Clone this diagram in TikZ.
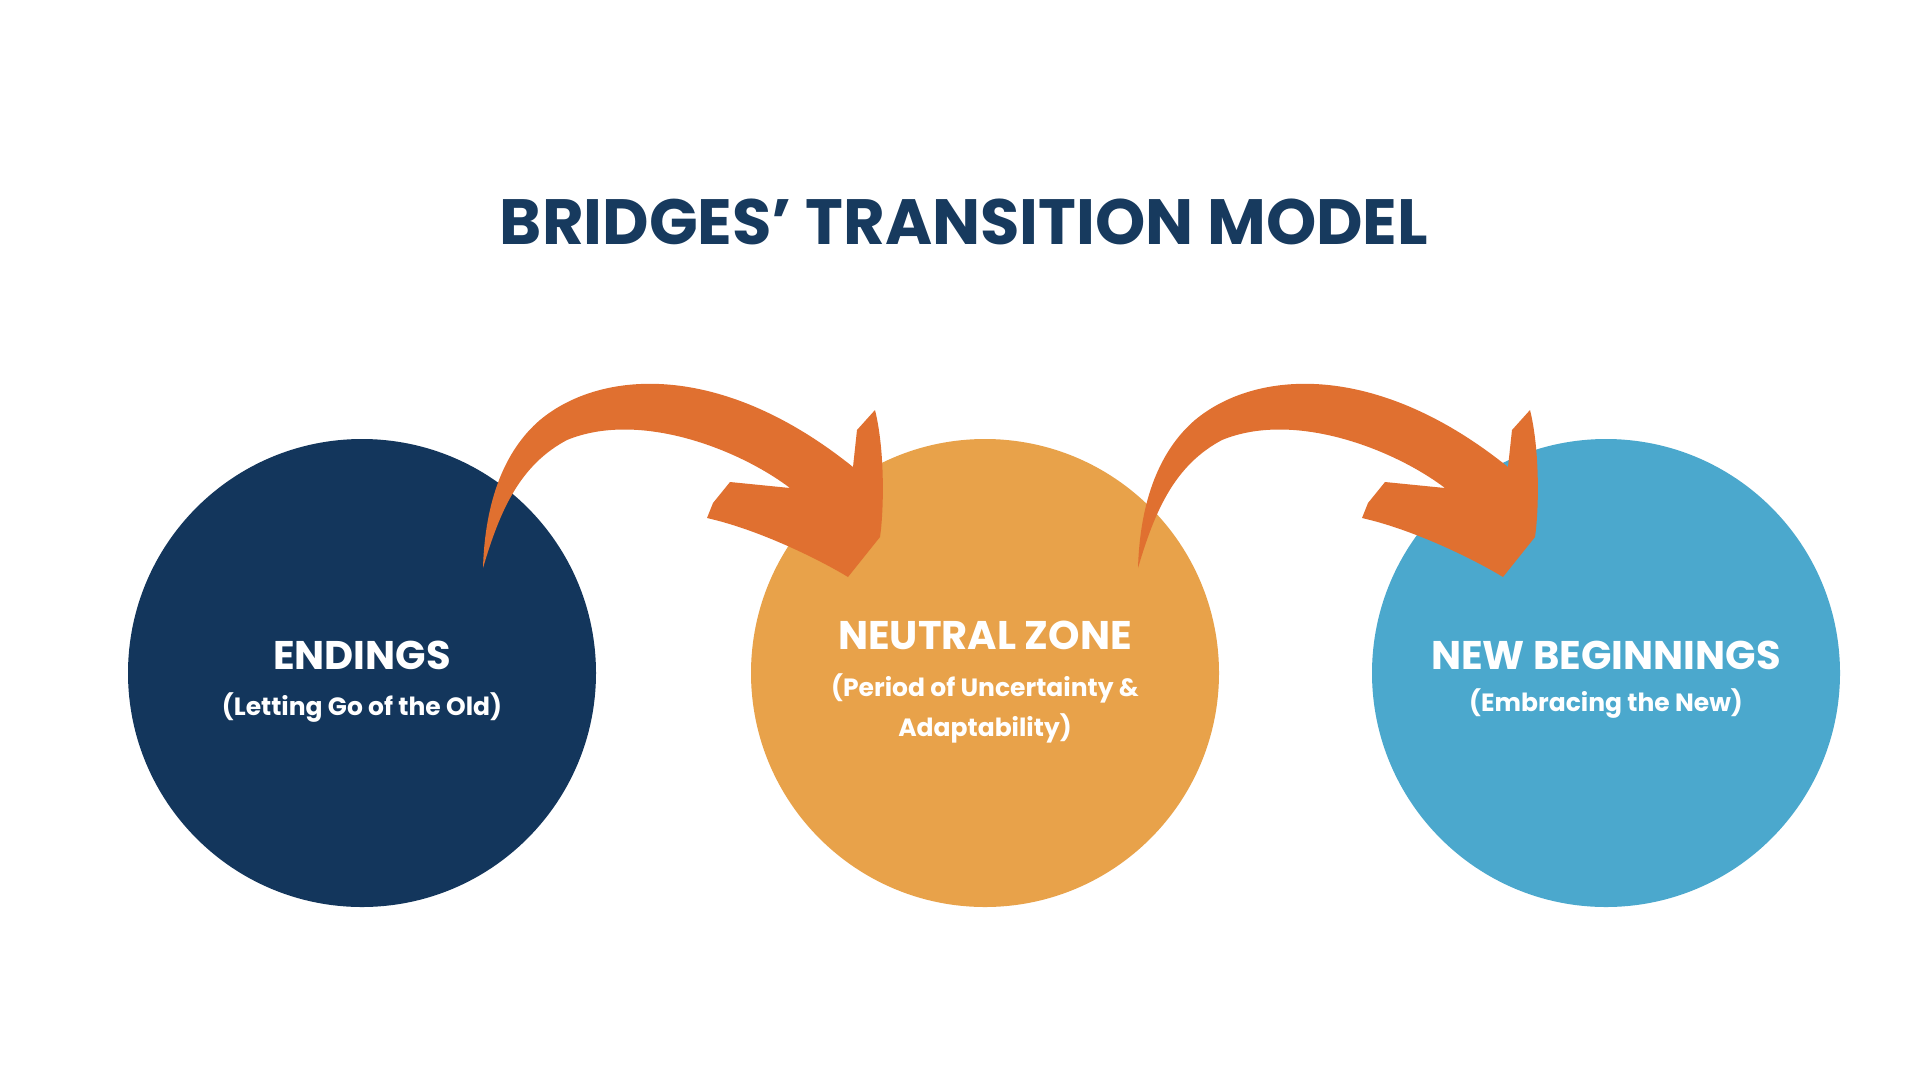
\documentclass[tikz,border=0pt]{standalone}
\usepackage{fontspec}
\setmainfont{Poppins}
\definecolor{navy}{HTML}{13365C}
\definecolor{sand}{HTML}{E8A24A}
\definecolor{sky}{HTML}{4BA8CD}
\definecolor{arr}{HTML}{E07030}
\definecolor{ttl}{HTML}{173A5E}
\begin{document}
\begin{tikzpicture}[x=1pt,y=-1pt,
  disc/.style={circle,minimum size=468pt,inner sep=0pt},
  head/.style={text=white,font=\fontsize{40}{44}\selectfont\bfseries},
  sub/.style={text=white,font=\fontsize{25}{40}\selectfont\bfseries,align=center},
  bend/.pic={\fill[arr] (483,568) .. controls (485,500) and (505,450) .. (540,420)
     .. controls (600,370) and (720,360) .. (853,467)
     -- (857,430) -- (875,410) .. controls (885,450) and (884,510) .. (880,537)
     -- (848,577) .. controls (820,560) and (760,530) .. (707,518)
     -- (713,503) -- (730,482) -- (790,488)
     .. controls (740,450) and (640,410) .. (567,440)
     .. controls (520,465) and (500,510) .. (483,568) -- cycle;}]
\useasboundingbox (0,0) rectangle (1920,1080);
\fill[white] (0,0) rectangle (1920,1080);
\node[text=ttl,font=\fontsize{64}{70}\selectfont\bfseries] (title) at (964,222) {BRIDGES’ TRANSITION MODEL};
\node[disc,fill=navy] (c1) at (362,673) {};
\node[disc,fill=sand] (c2) at (985,673) {};
\node[disc,fill=sky] (c3) at (1606,673) {};
\pic (a1) at (0,0) {bend};
\pic (a2) at (655,0) {bend};
\node[head] (h1) at (362,655) {ENDINGS};
\node[sub] (s1) at (362,708) {(Letting Go of the Old)};
\node[head] (h2) at (985,635) {NEUTRAL ZONE};
\node[sub] (s2) at (985,708) {(Period of Uncertainty \&\\Adaptability)};
\node[head] (h3) at (1606,655) {NEW BEGINNINGS};
\node[sub] (s3) at (1606,704) {(Embracing the New)};
\end{tikzpicture}
\end{document}
